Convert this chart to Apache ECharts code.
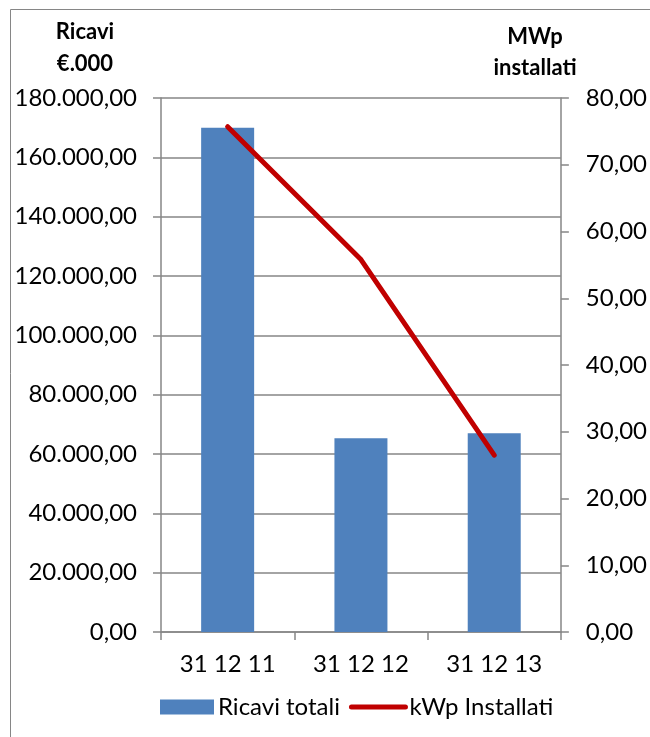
<!DOCTYPE html>
<html>
<head>
<meta charset="utf-8">
<script src="https://cdn.jsdelivr.net/npm/echarts@6/dist/echarts.min.js"></script>
<style>
  html, body { margin: 0; padding: 0; background: #fff; }
  #chart { width: 650px; height: 737px; }
</style>
</head>
<body>
<div id="chart"></div>
<script>
// dati
const categories = ['31 12 11', '31 12 12', '31 12 13'];
const ricaviTotali = [170000, 65300, 67000];   // €.000
const kwpInstallati = [75.7, 55.8, 26.5];      // MWp

const FONT = 'Lato, "Open Sans", sans-serif';
const GRAY = '#868686';

// formato italiano: 180.000,00
function fmtIt(v) {
    let parts = v.toFixed(2).split('.');
    parts[0] = parts[0].replace(/\B(?=(\d{3})+(?!\d))/g, '.');
    return parts[0] + ',' + parts[1];
}

function titleText(txt, x, y) {
    return {
        type: 'text', silent: true,
        style: { x: x, y: y, text: txt, font: 'bold 22px ' + FONT, fill: '#000',
                 align: 'center', verticalAlign: 'middle' }
    };
}

const chart = echarts.init(document.getElementById('chart'));

const option = {
    animation: false,
    backgroundColor: '#fff',
    textStyle: { fontFamily: FONT },
    graphic: [
        // cornice
        { type: 'rect', shape: { x: 10.5, y: 9.5, width: 700, height: 800 },
          style: { fill: 'none', stroke: GRAY, lineWidth: 1 }, silent: true },
        titleText('Ricavi', 85, 32),
        titleText('€.000', 85, 64),
        titleText('MWp', 535, 37),
        titleText('installati', 535, 68)
    ],
    grid: { left: 161, right: 89, top: 98, bottom: 105 },
    legend: {
        top: 690,
        left: 155,
        itemGap: 9,
        itemWidth: 54,
        itemHeight: 15,
        lineStyle: { width: 5, cap: 'round' },
        textStyle: { fontSize: 24, color: '#000', fontFamily: FONT, padding: [0, 0, 0, -1] },
        data: [
            { name: 'Ricavi totali', icon: 'rect' },
            { name: 'kWp Installati', itemStyle: { opacity: 0 } }
        ]
    },
    xAxis: {
        type: 'category',
        data: categories,
        boundaryGap: true,
        axisLine: { lineStyle: { color: GRAY, width: 1.5 } },
        axisTick: { show: true, length: 8, lineStyle: { color: GRAY, width: 1.5 } },
        axisLabel: { color: '#000', fontSize: 24, margin: 20 }
    },
    yAxis: [
        {
            type: 'value',
            min: 0, max: 180000, interval: 20000,
            axisLine: { show: true, lineStyle: { color: GRAY, width: 1.5 } },
            axisTick: { show: true, length: 8, lineStyle: { color: GRAY, width: 1.5 } },
            splitLine: { lineStyle: { color: GRAY, width: 1.5 } },
            axisLabel: { color: '#000', fontSize: 24, margin: 24, formatter: fmtIt }
        },
        {
            type: 'value',
            min: 0, max: 80, interval: 10,
            position: 'right',
            axisLine: { show: true, lineStyle: { color: GRAY, width: 1.5 } },
            axisTick: { show: true, length: 8, lineStyle: { color: GRAY, width: 1.5 } },
            splitLine: { show: false },
            axisLabel: { color: '#000', fontSize: 24, margin: 25, formatter: fmtIt }
        }
    ],
    series: [
        {
            name: 'Ricavi totali',
            type: 'bar',
            yAxisIndex: 0,
            data: ricaviTotali,
            barWidth: 53,
            itemStyle: { color: '#4F81BD' }
        },
        {
            name: 'kWp Installati',
            type: 'line',
            yAxisIndex: 1,
            data: kwpInstallati,
            symbol: 'none',
            lineStyle: { color: '#C00000', width: 5, cap: 'round', join: 'round' },
            itemStyle: { color: '#C00000' }
        }
    ]
};

chart.setOption(option);
</script>
</body>
</html>
